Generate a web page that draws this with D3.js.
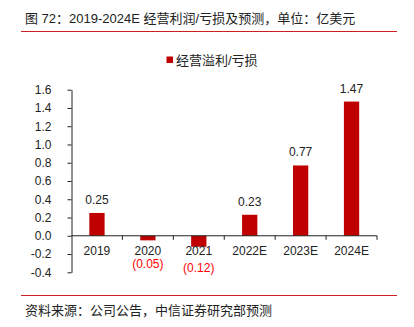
<!DOCTYPE html>
<html>
<head>
<meta charset="utf-8">
<script src="https://cdn.jsdelivr.net/npm/d3@7"></script>
<style>
  body { margin: 0; background: #fff; }
  svg { display: block; font-family: "Liberation Sans", Arial, "Noto Sans CJK SC", sans-serif; }
</style>
</head>
<body>
<svg id="chart"></svg>
<script>
const years = ['2019', '2020', '2021', '2022E', '2023E', '2024E']
const profit = [0.25, -0.05, -0.12, 0.23, 0.77, 1.47]
const yTicks = [-0.4, -0.2, 0.0, 0.2, 0.4, 0.6, 0.8, 1.0, 1.2, 1.4, 1.6]
const seriesName = '经营溢利/亏损'
const titleText = '图 72：2019-2024E 经营利润/亏损及预测，单位：亿美元'
const sourceText = '资料来源：公司公告，中信证券研究部预测'

const W = 414, H = 327
const barColor = '#c00000'
const lineColor = '#cc1f1f'

const svg = d3.select('#chart').attr('width', W).attr('height', H)

// header and footer
svg.append('text')
  .attr('x', 25).attr('y', 23)
  .attr('font-size', 13).attr('fill', '#222')
  .text(titleText)
svg.append('line')
  .attr('x1', 21).attr('x2', 397).attr('y1', 31.5).attr('y2', 31.5)
  .attr('stroke', lineColor).attr('stroke-width', 1)
svg.append('line')
  .attr('x1', 21).attr('x2', 397).attr('y1', 295.5).attr('y2', 295.5)
  .attr('stroke', lineColor).attr('stroke-width', 1)
svg.append('text')
  .attr('x', 25).attr('y', 315)
  .attr('font-size', 13).attr('fill', '#222')
  .text(sourceText)

// legend
svg.append('rect')
  .attr('x', 166.5).attr('y', 56.5).attr('width', 6.5).attr('height', 6.5)
  .attr('fill', barColor)
svg.append('text')
  .attr('x', 176).attr('y', 64.5)
  .attr('font-size', 13).attr('fill', '#222')
  .text(seriesName)

// scales
const x0 = 71.5, x1 = 377
const yscale = d3.scaleLinear().domain([-0.4, 1.6]).range([272.3, 89.7])
const xscale = d3.scaleBand().domain(years).range([x0, x1])
  .paddingInner(0.7).paddingOuter(0.35)
const slot = d3.scaleBand().domain(years).range([x0, x1]).padding(0)

// y axis
const yaxis = d3.axisLeft(yscale).tickValues(yTicks)
  .tickFormat(d3.format('.1f')).tickSizeOuter(0).tickSizeInner(4).tickPadding(16)
const yg = svg.append('g').attr('transform', `translate(${x0},0)`).call(yaxis)
yg.select('.domain').attr('stroke', '#222')
yg.selectAll('.tick line').attr('stroke', '#222')
yg.selectAll('.tick text').attr('font-size', 12).attr('fill', '#222')
  .attr('font-family', '"Liberation Sans", Arial, sans-serif')
yg.selectAll('.tick text').text(d => d3.format('.1f')(d).replace('−', '-'))

// bars
svg.append('g').selectAll('rect').data(years).enter()
  .append('rect')
  .attr('x', d => xscale(d))
  .attr('width', xscale.bandwidth())
  .attr('y', (d, i) => yscale(Math.max(0, profit[i])))
  .attr('height', (d, i) => Math.abs(yscale(profit[i]) - yscale(0)))
  .attr('fill', barColor)

// x axis along zero
const zy = yscale(0)
svg.append('line')
  .attr('x1', x0).attr('x2', x1).attr('y1', zy).attr('y2', zy)
  .attr('stroke', '#222')
svg.append('g').selectAll('line').data(years).enter()
  .append('line')
  .attr('x1', d => slot(d) + slot.bandwidth()).attr('x2', d => slot(d) + slot.bandwidth())
  .attr('y1', zy).attr('y2', zy + 4)
  .attr('stroke', '#222')
svg.append('g').selectAll('text').data(years).enter()
  .append('text')
  .attr('x', d => xscale(d) + xscale.bandwidth() / 2)
  .attr('y', zy + 19.5)
  .attr('text-anchor', 'middle')
  .attr('font-size', 12).attr('fill', '#222')
  .text(d => d)

// value labels: positives above the bar, negatives in red below the axis label
const fmt = v => v < 0 ? `(${Math.abs(v).toFixed(2)})` : v.toFixed(2)
svg.append('g').selectAll('text').data(years).enter()
  .append('text')
  .attr('x', d => xscale(d) + xscale.bandwidth() / 2)
  .attr('y', (d, i) => profit[i] < 0 ? Math.max(yscale(profit[i]) + 25, zy + 32.5) : yscale(profit[i]) - 9)
  .attr('text-anchor', 'middle')
  .attr('font-size', 12)
  .attr('fill', (d, i) => profit[i] < 0 ? '#ff0000' : '#222')
  .text((d, i) => fmt(profit[i]))
</script>
</body>
</html>
